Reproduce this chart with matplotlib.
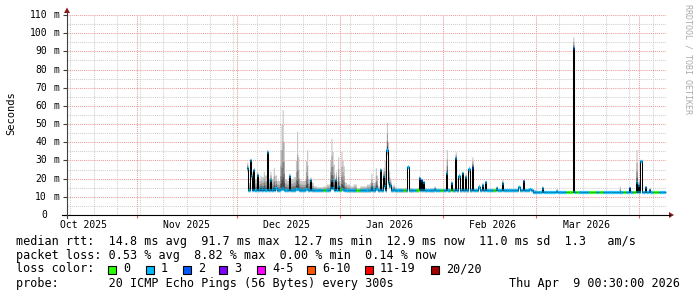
import matplotlib
matplotlib.use("Agg")
from datetime import datetime, timedelta

import matplotlib.dates as mdates
import matplotlib.pyplot as plt
from matplotlib.lines import Line2D
from matplotlib.patches import Polygon, Rectangle
from matplotlib.transforms import blended_transform_factory

# daily baseline, one value per day starting 2025-12-04
first_day = datetime(2025, 12, 4)
base_median = (
    [13.8] * 30      # Dec 4 - Jan 2
    + [13.6] * 56    # Jan 3 - Feb 27
    + [12.8] * 12    # Feb 28 - Mar 11
    + [12.7] * 28    # Mar 12 - Apr 8
)
base_top = [
    18, 19, 20, 19, 21, 22, 20, 20, 22, 19,
    21, 20, 19, 20, 21, 20, 19, 19, 20, 18,
    16, 15.5, 15.5, 16, 17, 19, 20, 19, 18, 18,
    17, 16, 17, 15, 16, 16, 17, 18, 18, 16,
    17, 17, 18, 16, 15.5, 15, 15, 15, 15.5, 15,
    14.5, 15, 15, 15, 14.5, 15, 15, 14.5, 14.5, 14.5,
    15, 14.5, 15, 15, 15, 15, 15, 15, 14.5, 14.5,
    14.5, 14.5, 14.5, 14.5, 14.5, 14.5, 14.5, 14.5, 14.5, 14.5,
    14.5, 14.5, 14.5, 14.5, 14.5, 14.5, 14, 13.5, 13.5, 13.5,
    13.3, 13.3, 13.3, 13.3, 13.3, 13.3, 13.2, 13.2, 13.2, 13.2,
    13.2, 13.2, 13.2, 13.2, 13.2, 13.2, 13.2, 13.2, 13.2, 13.2,
    13.2, 13.2, 13.2, 13.2, 13.2, 13.2, 13.2, 13.2, 13.2, 13.2,
    13.2, 13.2, 13.2, 13.2, 13.2, 13.2,
]
# index into loss_colors (0 = no loss, 1 = 1/20, 2 = 2/20 ...)
base_loss = [
    1, 1, 1, 1, 1, 1, 1, 1, 1, 1,
    1, 1, 1, 1, 1, 1, 1, 1, 1, 1,
    1, 1, 1, 0, 1, 1, 1, 1, 0, 1,
    1, 1, 1, 0, 1, 1, 1, 1, 1, 1,
    1, 1, 1, 1, 1, 1, 1, 0, 1, 1,
    1, 0, 1, 1, 1, 1, 1, 1, 0, 1,
    1, 0, 1, 1, 1, 1, 1, 1, 1, 1,
    1, 1, 1, 1, 0, 1, 1, 1, 1, 1,
    1, 1, 1, 1, 1, 1, 1, 1, 1, 1,
    1, 1, 1, 1, 1, 1, 0, 0, 1, 0,
    1, 1, 1, 0, 0, 1, 0, 1, 1, 1,
    1, 1, 1, 0, 1, 1, 0, 1, 1, 1,
    1, 1, 0, 0, 1, 1,
]

# latency events: days after 2025-12-04, median rtt, top of smoke, loss index
event_day = [
    0.0, 1.0, 1.33, 2.0, 3.0, 4.0, 5.0, 6.0, 7.0, 8.0,
    8.67, 10.0, 10.33, 10.67, 11.0, 12.67, 14.67, 15.0, 15.33, 17.67,
    18.0, 19.0, 25.0, 25.33, 25.67, 26.0, 26.67, 27.33, 28.33, 28.67, 29.0,
    37.33, 38.67, 39.0, 40.0, 41.0, 41.33, 42.0, 42.33, 42.67, 43.0, 44.0,
    48.33, 51.67, 52.33, 53.0, 56.33,
    60.0, 61.33, 62.67, 63.67, 64.67, 65.67, 66.67, 67.67, 69.67, 70.67,
    71.67, 75.0, 76.67, 81.67, 83.0, 85.0, 88.67,
    93.0, 98.0, 112.0, 115.0, 117.0, 117.67, 118.33, 119.67, 121.0,
]
event_median = [
    26, 30, 21.5, 24.7, 22, 15, 15, 34.8, 19, 15,
    15, 14.5, 14.5, 15, 14.5, 21.5, 14.5, 14.5, 14.5, 14.5,
    14.5, 19, 15, 19, 15, 15, 19, 16, 14.5, 14.5, 14,
    15.5, 15, 14.5, 25, 21.5, 16, 36, 18, 16, 16.5, 14.5,
    26.6, 20.3, 19, 18, 14.5,
    23, 17.6, 31.2, 21.5, 22.9, 21.1, 25.1, 26.6, 15.6, 16.5,
    18.3, 15, 17.4, 15.6, 18.9, 14.5, 15,
    13.3, 91.7, 12.7, 14.7, 18.3, 16.5, 29.9, 15.6, 14,
]
event_top = [
    29, 31, 24, 26, 24, 22, 24, 36, 24, 26,
    22, 36, 50, 58, 40, 23, 30, 46, 32, 30,
    36, 21, 30, 42, 35, 28, 24, 32, 35, 30, 27,
    23, 26, 22, 26, 26, 30, 51, 40, 24, 20, 17,
    27.5, 21.6, 20, 19, 16,
    36, 19, 34.8, 23, 24, 23, 27, 32, 17, 18,
    19, 16, 19.6, 16.5, 19.5, 15, 16,
    14.5, 98, 16, 15.6, 36, 20, 30.5, 16, 15,
]
event_loss = [
    1, 1, 1, 1, 1, 1, 1, 1, 1, 1,
    1, 1, 1, 1, 1, 1, 1, 1, 1, 1,
    1, 1, 1, 1, 1, 1, 1, 1, 0, 1, 1,
    1, 1, 1, 1, 1, 1, 1, 1, 1, 1, 1,
    1, 1, 2, 1, 1,
    1, 1, 1, 1, 1, 1, 1, 2, 1, 1,
    1, 1, 1, 1, 2, 1, 1,
    1, 2, 1, 2, 1, 1, 1, 1, 2,
]

loss_colors = ["#26ff00", "#00b8ff", "#0059ff", "#7e00ff",
               "#ff00ff", "#ff5500", "#ff0000", "#a10000"]
loss_labels = ["0", "1", "2", "3", "4-5", "6-10", "11-19", "20/20"]

month_labels = ["Oct 2025", "Nov 2025", "Dec 2025", "Jan 2026", "Feb 2026", "Mar 2026"]
month_starts = [datetime(2025, 11, 1), datetime(2025, 12, 1), datetime(2026, 1, 1),
                datetime(2026, 2, 1), datetime(2026, 3, 1), datetime(2026, 4, 1)]
y_ticks = list(range(0, 111, 10))

stats_rtt = "median rtt:  14.8 ms avg  91.7 ms max  12.7 ms min  12.9 ms now  11.0 ms sd  1.3   am/s"
stats_loss = "packet loss: 0.53 % avg  8.82 % max  0.00 % min  0.14 % now"
probe_text = "probe:       20 ICMP Echo Pings (56 Bytes) every 300s"
stamp_text = "Thu Apr  9 00:30:00 2026"

W, H = 697, 297
MONO = "DejaVu Sans Mono"
plt.rcParams["font.family"] = [MONO]
STEPS_PER_DAY = 3


def fx(x):
    return x / W


def fy(y):
    return 1 - y / H


graph_end = datetime(2026, 4, 9, 0, 30)
graph_start = graph_end - timedelta(days=180)

# build the 8-hour series the graph is drawn from
n_steps = STEPS_PER_DAY * len(base_median)
med = [base_median[k // STEPS_PER_DAY] for k in range(n_steps)]
top = [base_top[k // STEPS_PER_DAY] for k in range(n_steps)]
loss = [base_loss[k // STEPS_PER_DAY] for k in range(n_steps)]
for d, m, t, lv in zip(event_day, event_median, event_top, event_loss):
    k = int(round(d * STEPS_PER_DAY))
    med[k], top[k], loss[k] = m, t, lv

fig = plt.figure(figsize=(W / 100, H / 100), dpi=100)
fig.patch.set_facecolor("white")
ax = fig.add_axes([fx(67), fy(215), 599 / W, 200 / H])
ax.set_facecolor("white")

step_h = 24 // STEPS_PER_DAY
edges = mdates.date2num([first_day + timedelta(hours=step_h * k) for k in range(n_steps + 1)])
med_e = med + [med[-1]]
top_e = top + [top[-1]]
low_e = [m - min(t - m, 0.08 * m) for m, t in zip(med_e, top_e)]

# smoke: darker the closer to the median
for frac, shade in [(1.0, "#c6c6c6"), (0.6, "#a2a2a2"), (0.33, "#777777"), (0.14, "#474747")]:
    hi = [m + frac * (t - m) for m, t in zip(med_e, top_e)]
    lo = [m - frac * (m - l) for m, l in zip(med_e, low_e)]
    ax.fill_between(edges, lo, hi, step="post", color=shade, lw=0, zorder=2,
                    antialiased=False)

ax.step(edges, med_e, where="post", color="black", lw=0.75, zorder=3)
ax.hlines(med, edges[:-1], edges[1:], colors=[loss_colors[k] for k in loss],
          lw=2.3, zorder=4)

ax.set_xlim(mdates.date2num(graph_start), mdates.date2num(graph_end))
ax.set_ylim(0, 110)

sundays = []
d = graph_start.replace(hour=0, minute=0) + timedelta(days=1)
while d < graph_end:
    if d.weekday() == 6:
        sundays.append(d)
    d += timedelta(days=1)
ax.set_xticks(mdates.date2num(month_starts))
ax.set_xticks(mdates.date2num(sundays), minor=True)
ax.set_yticks(y_ticks)
ax.set_yticks([v + 5 for v in y_ticks[:-1]], minor=True)
ax.set_xticklabels([])
ax.set_yticklabels([])
ax.tick_params(axis="x", which="major", length=2, color="#e06060", direction="out")
ax.tick_params(axis="x", which="minor", length=0)
ax.tick_params(axis="y", which="major", length=3, color="#404040", direction="out")
ax.tick_params(axis="y", which="minor", length=0)
ax.grid(which="major", color="#ee9a9a", ls=(0, (1, 1)), lw=0.75)
ax.grid(which="minor", color="#cfcfcf", ls=(0, (1, 1)), lw=0.75)
ax.set_axisbelow(True)
for s in ax.spines.values():
    s.set_visible(False)

# y tick labels, rrdtool style
ytr = blended_transform_factory(fig.transFigure, ax.transData)
for v in y_ticks:
    ax.text(fx(47), v, str(v), transform=ytr, ha="right", va="center", fontsize=7, family=MONO)
    if v:
        ax.text(fx(53.5), v, "m", transform=ytr, ha="left", va="center", fontsize=7, family=MONO)

# month labels sit mid-month
xtr = blended_transform_factory(ax.transData, fig.transFigure)
for lab, ms in zip(month_labels, [datetime(2025, 10, 1)] + month_starts[:-1]):
    mid = ms.replace(day=16)
    ax.text(mdates.date2num(mid), fy(225), lab, transform=xtr, ha="center", va="center",
            fontsize=7, family=MONO)

# axes with arrows
fig.add_artist(Line2D([fx(62), fx(670)], [fy(215), fy(215)], color="black", lw=0.8))
fig.add_artist(Line2D([fx(67), fx(67)], [fy(218), fy(12)], color="#404040", lw=0.8))
arrow = "#8b1a1a"
fig.add_artist(Polygon([(fx(669), fy(212)), (fx(674), fy(215)), (fx(669), fy(218))],
                       closed=True, color=arrow, lw=0))
fig.add_artist(Polygon([(fx(64), fy(13)), (fx(67), fy(7.5)), (fx(70), fy(13))],
                       closed=True, color=arrow, lw=0))

fig.text(fx(11), fy(113), "Seconds", rotation=90, ha="center", va="center", fontsize=7.5, family=MONO)
fig.text(fx(688), fy(4), "RRDTOOL / TOBI OETIKER", rotation=270, ha="center", va="top",
         fontsize=6, color="#ababab", family=MONO)

# legend block
fig.text(fx(16), fy(241), stats_rtt, ha="left", va="center", fontsize=8.5, family=MONO)
fig.text(fx(16), fy(255), stats_loss, ha="left", va="center", fontsize=8.5, family=MONO)
fig.text(fx(16), fy(269), "loss color:", ha="left", va="center", fontsize=8.5, family=MONO)
for sx, col, lab in zip([108, 146, 183, 219, 257, 307, 365, 431], loss_colors, loss_labels):
    fig.add_artist(Rectangle((fx(sx), fy(273.5)), 8 / W, 8 / H, facecolor=col,
                             edgecolor="black", lw=0.8))
    fig.text(fx(sx + 15), fy(269), lab, ha="left", va="center", fontsize=8.5, family=MONO)
fig.text(fx(16), fy(283), probe_text, ha="left", va="center", fontsize=8.5, family=MONO)
fig.text(fx(680), fy(283), stamp_text, ha="right", va="center", fontsize=8.5, family=MONO)

fig.savefig("out.png", dpi=100)
